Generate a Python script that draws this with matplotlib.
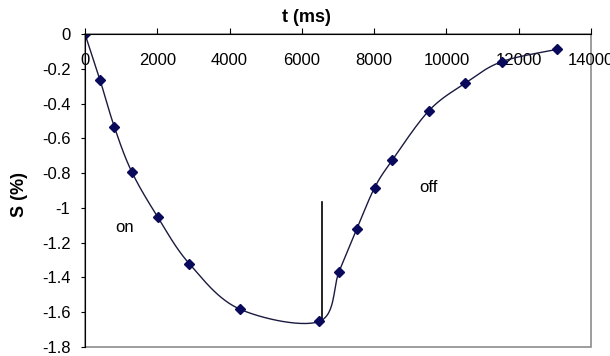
import matplotlib
matplotlib.use("Agg")
import matplotlib.pyplot as plt
import matplotlib.patches as patches
import numpy as np

plt.rcParams["font.family"] = ["Liberation Sans", "DejaVu Sans"]

# data
t_ms = [0, 415, 810, 1290, 2010, 2890, 4280, 6480,
        7030, 7520, 8010, 8500, 9520, 10520, 11530, 13070]
s_pct = [0.0, -0.264, -0.533, -0.791, -1.052, -1.322, -1.582, -1.653,
         -1.366, -1.122, -0.885, -0.726, -0.440, -0.283, -0.159, -0.088]

switch_t = 6570
switch_top = -0.964

x_ticks = [0, 2000, 4000, 6000, 8000, 10000, 12000, 14000]
y_ticks = [0, -0.2, -0.4, -0.6, -0.8, -1, -1.2, -1.4, -1.6, -1.8]
y_ticklabels = ["0", "-0.2", "-0.4", "-0.6", "-0.8", "-1", "-1.2", "-1.4", "-1.6", "-1.8"]

navy = "#0a0a5c"


def smooth(xs, ys, n=30):
    """Excel-like smoothed line: cubic Bezier with 1/6 tangents."""
    p = np.column_stack([xs, ys]).astype(float)
    out = [p[0]]
    u = np.linspace(0, 1, n)[1:, None]
    for i in range(len(p) - 1):
        p0 = p[max(i - 1, 0)]
        p3 = p[min(i + 2, len(p) - 1)]
        c1 = p[i] + (p[i + 1] - p0) / 6
        c2 = p[i + 1] - (p3 - p[i]) / 6
        seg = ((1 - u) ** 3 * p[i] + 3 * (1 - u) ** 2 * u * c1
               + 3 * (1 - u) * u ** 2 * c2 + u ** 3 * p[i + 1])
        out.extend(seg)
    out = np.array(out)
    return out[:, 0], out[:, 1]


fig = plt.figure(figsize=(6.1, 3.56), dpi=100)
ax = fig.add_axes([85 / 610, 1 - 347 / 356, 506 / 610, 313 / 356])

sx, sy = smooth(t_ms, s_pct)
ax.plot(sx, sy, color="#1a1a40", lw=1.0, zorder=3)
ax.plot(t_ms, s_pct, ls="none", marker="D", ms=5.5, color=navy, zorder=4)
ax.plot([switch_t, switch_t], [switch_top, s_pct[7]], color="black", lw=1.2)

ax.text(1100, -1.115, "on", fontsize=12, ha="center", va="center")
ax.text(9490, -0.88, "off", fontsize=12, ha="center", va="center")

ax.set_xlim(0, 14000)
ax.set_ylim(-1.8, 0)

# plot area frame
ax.add_patch(patches.Rectangle((0, 0), 1, 1, transform=ax.transAxes,
                               fill=False, edgecolor="#8c8c8c", lw=1.2,
                               clip_on=False, zorder=1))
for side in ["top", "right"]:
    ax.spines[side].set_visible(False)
ax.spines["bottom"].set_position(("data", 0))
ax.spines["bottom"].set_zorder(5)
ax.spines["left"].set_zorder(5)

ax.set_xticks(x_ticks)
ax.set_xticklabels([str(v) for v in x_ticks])
ax.set_yticks(y_ticks)
ax.set_yticklabels(y_ticklabels)
ax.tick_params(axis="x", direction="in", length=4, pad=14, labelsize=12)
ax.tick_params(axis="y", direction="out", length=3, pad=7.5, labelsize=12)

fig.text(306 / 610, 1 - 18 / 356, "t (ms)", fontsize=13, fontweight="bold",
         ha="center", va="center")
fig.text(20 / 610, 1 - 195 / 356, "S (%)", fontsize=13, fontweight="bold",
         rotation=90, ha="center", va="center")

fig.savefig("out.png", dpi=100)
